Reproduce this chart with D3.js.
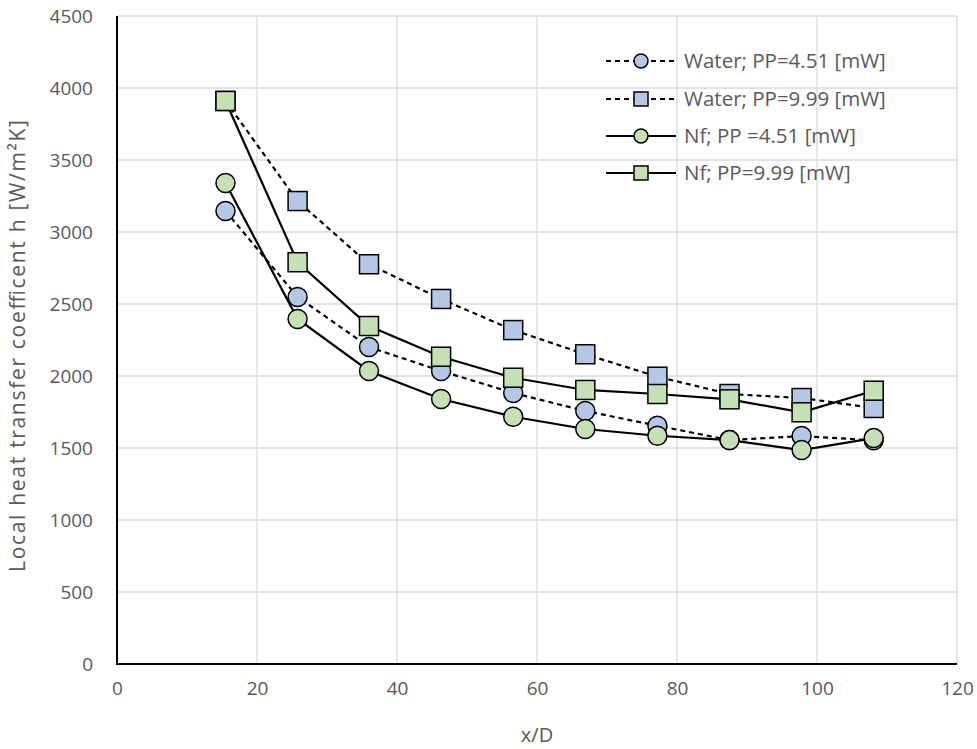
<!DOCTYPE html>
<html>
<head>
<meta charset="utf-8">
<script src="https://cdn.jsdelivr.net/npm/d3@7"></script>
<style>
  html, body { margin: 0; padding: 0; background: #fff; }
  svg { display: block; }
  text { font-family: "Open Sans", "Noto Sans", sans-serif; fill: #595959; }
</style>
</head>
<body>
<svg id="chart" width="977" height="749"></svg>
<script>
// ---- data ----
const xPositions = [15.5, 25.8, 36.0, 46.3, 56.6, 66.9, 77.2, 87.5, 97.8, 108.1];
const waterPP451 = [3146, 2549, 2201, 2035, 1882, 1757, 1655, 1555, 1583, 1553];
const waterPP999 = [3910, 3215, 2776, 2535, 2319, 2151, 1995, 1875, 1847, 1778];
const nfPP451    = [3340, 2396, 2035, 1840, 1717, 1632, 1585, 1555, 1486, 1569];
const nfPP999    = [3910, 2790, 2347, 2134, 1988, 1903, 1875, 1838, 1748, 1898];
const seriesNames = ["Water; PP=4.51 [mW]", "Water; PP=9.99 [mW]", "Nf; PP =4.51 [mW]", "Nf; PP=9.99 [mW]"];
const xTicks = [0, 20, 40, 60, 80, 100, 120];
const yTicks = [0, 500, 1000, 1500, 2000, 2500, 3000, 3500, 4000, 4500];
const xTitle = "x/D";
const yTitle = "Local heat transfer coefficent h [W/m²K]";

const series = [
  { name: seriesNames[0], values: waterPP451, shape: "circle", fill: "#b4c7e7", dash: "5,4" },
  { name: seriesNames[1], values: waterPP999, shape: "square", fill: "#b4c7e7", dash: "5,4" },
  { name: seriesNames[2], values: nfPP451,    shape: "circle", fill: "#c5e0b4", dash: null },
  { name: seriesNames[3], values: nfPP999,    shape: "square", fill: "#c5e0b4", dash: null }
];

const svg = d3.select("#chart");
const L = 117, R = 957, T = 16, B = 664;
const x = d3.scaleLinear().domain([0, 120]).range([L, R]);
const y = d3.scaleLinear().domain([0, 4500]).range([B, T]);

// gridlines
svg.append("g").selectAll("line.h").data(yTicks.filter(d => d > 0)).join("line")
  .attr("x1", L).attr("x2", R).attr("y1", d => y(d)).attr("y2", d => y(d))
  .attr("stroke", "#d9d9d9").attr("stroke-width", 1.3);
svg.append("g").selectAll("line.v").data(xTicks.filter(d => d > 0)).join("line")
  .attr("y1", T).attr("y2", B).attr("x1", d => x(d)).attr("x2", d => x(d))
  .attr("stroke", "#d9d9d9").attr("stroke-width", 1.3);

// axes
const xAxis = svg.append("g").attr("transform", `translate(0,${B})`)
  .call(d3.axisBottom(x).tickValues(xTicks).tickFormat(d3.format("d")).tickSize(0).tickPadding(18));
const yAxis = svg.append("g").attr("transform", `translate(${L},0)`)
  .call(d3.axisLeft(y).tickValues(yTicks).tickFormat(d3.format("d")).tickSize(0).tickPadding(24));
[xAxis, yAxis].forEach(a => {
  a.select(".domain").attr("stroke", "#000").attr("stroke-width", 2);
  a.selectAll("text").style("font-size", "19px").style("fill", "#595959")
    .style("font-family", '"Open Sans", sans-serif');
});
xAxis.select(".domain").attr("d", `M${L},0H${R}`);
yAxis.select(".domain").attr("d", `M0,${B + 1}V${T}`);

// titles
svg.append("text").attr("x", (L + R) / 2).attr("y", 742).attr("text-anchor", "middle")
  .style("font-size", "20px").text(xTitle);
svg.append("text").attr("transform", `translate(25,${(T + B) / 2 + 6}) rotate(-90)`)
  .attr("text-anchor", "middle").style("font-size", "21px")
  .attr("textLength", 452).attr("lengthAdjust", "spacing").text(yTitle);

// lines + markers
const line = d3.line().x((d, i) => x(xPositions[i])).y(d => y(d));
const ms = 19;
function drawMarker(g, shape, fill, cx, cy) {
  if (shape === "circle") {
    g.append("circle").attr("cx", cx).attr("cy", cy).attr("r", ms / 2)
      .attr("fill", fill).attr("stroke", "#000").attr("stroke-width", 1.5);
  } else {
    g.append("rect").attr("x", cx - ms / 2).attr("y", cy - ms / 2)
      .attr("width", ms).attr("height", ms)
      .attr("fill", fill).attr("stroke", "#000").attr("stroke-width", 1.5);
  }
}
series.forEach(s => {
  const g = svg.append("g");
  g.append("path").attr("d", line(s.values)).attr("fill", "none")
    .attr("stroke", "#000").attr("stroke-width", 2.2)
    .attr("stroke-dasharray", s.dash);
  s.values.forEach((v, i) => drawMarker(g, s.shape, s.fill, x(xPositions[i]), y(v)));
});

// legend
const legendY = [61, 99, 136, 173];
series.forEach((s, i) => {
  const g = svg.append("g");
  const ly = legendY[i];
  g.append("line").attr("x1", 606).attr("x2", 676).attr("y1", ly).attr("y2", ly)
    .attr("stroke", "#000").attr("stroke-width", 2.2).attr("stroke-dasharray", s.dash);
  const lms = 14;
  if (s.shape === "circle") {
    g.append("circle").attr("cx", 641).attr("cy", ly).attr("r", lms / 2)
      .attr("fill", s.fill).attr("stroke", "#000").attr("stroke-width", 1.5);
  } else {
    g.append("rect").attr("x", 641 - lms / 2).attr("y", ly - lms / 2).attr("width", lms).attr("height", lms)
      .attr("fill", s.fill).attr("stroke", "#000").attr("stroke-width", 1.5);
  }
  g.append("text").attr("x", 684).attr("y", ly + 7).style("font-size", "20.5px").text(s.name);
});
</script>
</body>
</html>
